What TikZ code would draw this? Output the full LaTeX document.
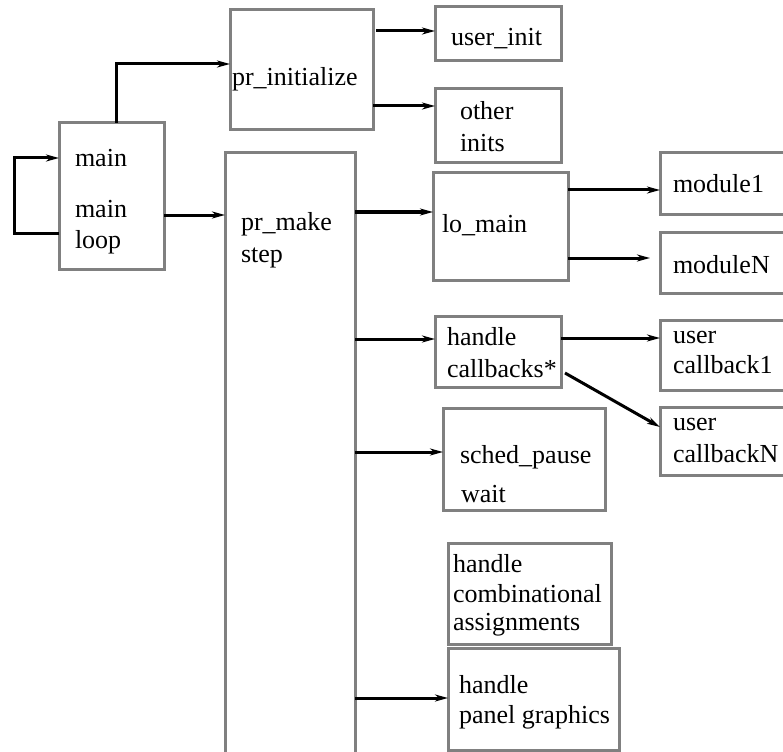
\documentclass[tikz,border=0pt]{standalone}
\usepackage{fontspec}
\setmainfont{Liberation Serif}
\usetikzlibrary{arrows.meta}
\definecolor{boxgray}{RGB}{128,128,128}
\tikzset{
  box/.style={draw=boxgray, line width=3pt, inner sep=0pt, outer sep=0pt, rectangle},
  lbl/.style={anchor=base west, inner sep=0pt, outer sep=0pt, font=\fontsize{26}{30}\selectfont},
  conn/.style={line width=3pt, -{Stealth[length=13pt,width=7pt,inset=4pt]}},
  link/.style={line width=3pt}
}
\begin{document}
\begin{tikzpicture}[x=1pt,y=-1pt]
\useasboundingbox (0,0) rectangle (783,751);
\clip (0,0) rectangle (783,751);
% boxes
\node[box, minimum width=105pt, minimum height=146pt] (main) at (111.5,196) {};
\node[box, minimum width=143pt, minimum height=120pt] (pri) at (301.5,70) {};
\node[box, minimum width=130pt, minimum height=647pt] (pms) at (290,476.5) {};
\node[box, minimum width=126pt, minimum height=54pt] (ui) at (498,34) {};
\node[box, minimum width=126pt, minimum height=74pt] (oi) at (498,126) {};
\node[box, minimum width=135pt, minimum height=107pt] (lo) at (500.5,226.5) {};
\node[box, minimum width=160pt, minimum height=61pt] (m1) at (740,183.5) {};
\node[box, minimum width=160pt, minimum height=61pt] (mN) at (740,262.5) {};
\node[box, minimum width=126pt, minimum height=71pt] (hc) at (498,351.5) {};
\node[box, minimum width=160pt, minimum height=70pt] (uc1) at (740,355) {};
\node[box, minimum width=160pt, minimum height=68pt] (ucN) at (740,441) {};
\node[box, minimum width=162pt, minimum height=102pt] (sp) at (524,459) {};
\node[box, minimum width=163pt, minimum height=101pt] (hca) at (529.5,593.5) {};
\node[box, minimum width=171pt, minimum height=102pt] (hpg) at (533.5,699) {};
% labels
\node[lbl] (t1) at (75,167) {main};
\node[lbl] (t2) at (75,218) {main};
\node[lbl] (t3) at (75,248) {loop};
\node[lbl] (t4) at (232,86) {pr\_initialize};
\node[lbl] (t5) at (241,230) {pr\_make};
\node[lbl] (t6) at (241,262) {step};
\node[lbl] (t7) at (451,46) {user\_init};
\node[lbl] (t8) at (460,120) {other};
\node[lbl] (t9) at (460,152) {inits};
\node[lbl] (t10) at (442,233) {lo\_main};
\node[lbl] (t11) at (673,193) {module1};
\node[lbl] (t12) at (673,273) {moduleN};
\node[lbl] (t13) at (447,345) {handle};
\node[lbl] (t14) at (447,377) {callbacks*};
\node[lbl] (t15) at (673,343) {user};
\node[lbl] (t16) at (673,373) {callback1};
\node[lbl] (t17) at (673,430) {user};
\node[lbl] (t18) at (673,462) {callbackN};
\node[lbl] (t19) at (460,463) {sched\_pause};
\node[lbl] (t20) at (461,502) {wait};
\node[lbl] (t21) at (453,572) {handle};
\node[lbl] (t22) at (453,602) {combinational};
\node[lbl] (t23) at (453,630) {assignments};
\node[lbl] (t24) at (459,693) {handle};
\node[lbl] (t25) at (459,723) {panel graphics};
% connectors
\coordinate (lp1) at (14,233);
\coordinate (lp2) at (14,158);
\draw[conn] (main.west |- lp1) -- (lp1) -- (lp2) -- (main.west |- lp2);
\coordinate (up) at (116,64);
\draw[conn] (up |- main.north) -- (up) -- (pri.west |- up);
\draw[conn] (main.east |- 0,215) -- (pms.west |- 0,215);
\draw[conn] (376,31) -- (ui.west |- 0,31);
\draw[conn] (pri.east |- 0,106) -- (oi.west |- 0,106);
\draw[conn] (pms.east |- 0,212) -- (lo.west |- 0,212);
\draw[conn] (lo.east |- 0,190) -- (m1.west |- 0,190);
\coordinate (mNend) at (650,258);
\draw[conn] (lo.east |- mNend) -- (mNend);
\draw[conn] (pms.east |- 0,339) -- (hc.west |- 0,339);
\draw[conn] (hc.east |- 0,338) -- (uc1.west |- 0,338);
\draw[conn] (565,373) -- (ucN.west |- 0,427);
\draw[conn] (pms.east |- 0,452) -- (sp.west |- 0,452);
\draw[conn] (pms.east |- 0,698) -- (hpg.west |- 0,698);
\end{tikzpicture}
\end{document}
